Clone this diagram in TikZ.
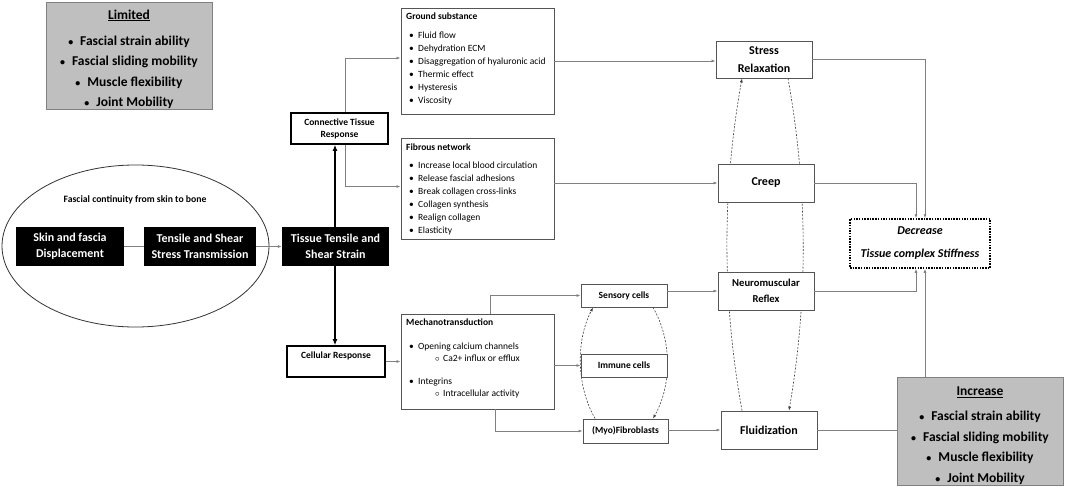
\documentclass[tikz,border=0pt]{standalone}
\usepackage{fontspec}
\setmainfont{Carlito}
\usetikzlibrary{arrows.meta,shapes.geometric}
\definecolor{lgray}{HTML}{BFBFBF}
\definecolor{cgray}{HTML}{808080}
\definecolor{bgray}{HTML}{555555}
\newcommand{\myfs}[2]{\fontsize{#1}{#2}\selectfont}
\newcommand{\myb}{\hspace{3pt}\makebox[9pt][l]{•}}
\newcommand{\mysb}{\hspace{29pt}\makebox[8pt][l]{$\circ$}}
\newcommand{\myB}{{\fontsize{10}{10}\selectfont\textbullet}\hspace{7pt}}
\pgfdeclarelayer{bg}
\pgfsetlayers{bg,main}
\begin{document}
\begin{tikzpicture}[x=1pt,y=-1pt,
  box/.style={draw=bgray,line width=0.9pt,fill=white,inner sep=0pt},
  blk/.style={fill=black,text=white,font=\bfseries\myfs{12}{16},align=center,inner sep=0pt},
  conn/.style={draw=cgray,line width=0.8pt},
  arr/.style={conn,-{Latex[length=4pt,width=3pt]}},
  bigarr/.style={draw=black,line width=1.8pt,-{Latex[length=6pt,width=5pt]}},
  dsh/.style={draw=black!75,dash pattern=on 2pt off 1.5pt,line width=0.6pt,-{Latex[length=4pt,width=3pt]}},
  graybox/.style={draw=cgray,fill=lgray,line width=0.9pt,inner sep=0pt},
  listtxt/.style={anchor=north west,align=left,inner sep=0pt,font=\myfs{9.5}{13}}
]
\useasboundingbox (0,0) rectangle (1065,487);

% Limited box
\node[graybox,minimum width=166,minimum height=107] (lim) at (129,55.5) {};
\node[font=\bfseries\myfs{13.5}{20.5},align=center,anchor=north,inner sep=0pt] (limt) at (129,9.5)
  {\underline{Limited}\\[5.5pt]\myB Fascial strain ability\\\myB Fascial sliding mobility\\\myB Muscle flexibility\\\myB Joint Mobility};

% Ellipse group
\node[draw=black!80,ellipse,line width=0.8pt,minimum width=267,minimum height=162,inner sep=0pt] (ell) at (135.5,246) {};
\node[font=\bfseries\myfs{9.7}{12},inner sep=0pt] (ellt) at (135,200) {Fascial continuity from skin to bone};
\node[blk,minimum width=108,minimum height=39] (skin) at (70,246.5) {Skin and fascia\\Displacement};
\node[blk,minimum width=112,minimum height=39] (tens) at (200,246.5) {Tensile and Shear\\Stress Transmission};
\node[blk,minimum width=107,minimum height=39] (tiss) at (335.5,246.5) {Tissue Tensile and\\Shear Strain};
\draw[conn] (skin.east) -- (tens.west);
\draw[arr] (tens.east) -- (tiss.west);

% Responses
\node[draw=black,line width=1.6pt,fill=white,minimum width=97,minimum height=31,inner sep=0pt,font=\bfseries\myfs{9.5}{12},align=center] (ctr) at (339.5,128.5) {Connective Tissue\\Response};
\node[draw=black,line width=1.6pt,fill=white,minimum width=98,minimum height=31,inner sep=0pt] (cel) at (336,361.5) {};
\node[font=\bfseries\myfs{9.5}{12},inner sep=0pt] (celt) at (336,356) {Cellular Response};
\draw[bigarr] ([xshift=-0.5pt]tiss.north) -- ([xshift=-0.5pt]tiss.north |- ctr.south);
\draw[bigarr] ([xshift=-0.5pt]tiss.south) -- ([xshift=-0.5pt]tiss.south |- cel.north);

% Ground substance
\node[box,minimum width=153,minimum height=106] (gs) at (477.5,61) {};
\node[listtxt] (gst) at (406,13) {\textbf{Ground substance}\\[6pt]\myb Fluid flow\\\myb Dehydration ECM\\\myb Disaggregation of hyaluronic acid\\\myb Thermic effect\\\myb Hysteresis\\\myb Viscosity};
% Fibrous network
\node[box,minimum width=153,minimum height=101] (fib) at (477.5,188.5) {};
\node[listtxt] (fibt) at (406,144) {\textbf{Fibrous network}\\[5pt]\myb Increase local blood circulation\\\myb Release fascial adhesions\\\myb Break collagen cross-links\\\myb Collagen synthesis\\\myb Realign collagen\\\myb Elasticity};
% Mechanotransduction
\node[box,minimum width=153,minimum height=95] (mech) at (477.5,361.5) {};
\node[listtxt,font=\myfs{9.5}{12}] (mecht) at (406,319) {\textbf{Mechanotransduction}\\[12pt]\myb Opening calcium channels\\\mysb Ca2+ influx or efflux\\[11pt]\myb Integrins\\\mysb Intracellular activity};

\draw[arr] ([xshift=5.5pt]ctr.north) |- ([yshift=3pt]gs.west);
\draw[arr] ([xshift=5.5pt]ctr.south) |- ([yshift=2pt]fib.west);
\draw[arr] (cel.east) -- (mech.west);

% Cells
\node[box,minimum width=86,minimum height=23,font=\bfseries\myfs{9.5}{12}] (sens) at (624,295.5) {Sensory cells};
\node[box,minimum width=86,minimum height=23,font=\bfseries\myfs{9.5}{12}] (imm) at (624,365.5) {Immune cells};
\node[box,minimum width=85,minimum height=24,font=\bfseries\myfs{9.5}{12}] (myo) at (625.5,431) {(Myo)Fibroblasts};
\draw[arr] ([xshift=12.5pt]mech.north) |- (sens.west);
\draw[arr] (imm.west -| mech.east) -- (imm.west);
\draw[arr] ([xshift=17.5pt]mech.south) |- (myo.west);

% Right column
\node[box,minimum width=96,minimum height=37,font=\bfseries\myfs{12}{18},align=center] (sr) at (764,59.5) {Stress\\Relaxation};
\node[box,minimum width=96,minimum height=38,font=\bfseries\myfs{12}{16}] (cr) at (766,183) {Creep};
\node[box,minimum width=96,minimum height=38,font=\bfseries\myfs{10.6}{16},align=center] (nm) at (766,291) {Neuromuscular\\Reflex};
\node[box,minimum width=96,minimum height=38,font=\bfseries\myfs{12}{16}] (fl) at (769,430) {Fluidization};

\draw[arr] (gs.east) -- (sr.west |- gs.east);
\draw[arr] (cr.west -| fib.east) -- (cr.west);
\draw[arr] (nm.west -| sens.east) -- (nm.west);
\draw[arr] (fl.west -| myo.east) -- (fl.west);

% Dashed curves (behind boxes)
\begin{pgfonlayer}{bg}
\draw[dsh] ([xshift=-27pt]fl.north) .. controls (722,300) and (722,190) .. ([xshift=-22pt]sr.south);
\draw[dsh] ([xshift=24pt]sr.south) .. controls (808,190) and (808,300) .. ([xshift=20pt]fl.north);
\draw[dsh] ([xshift=-30.5pt]myo.north) .. controls (576,385) and (576,340) .. ([xshift=-31pt]sens.south);
\draw[dsh] ([xshift=29pt]sens.south) .. controls (672,340) and (672,385) .. ([xshift=27.5pt]myo.north);
\end{pgfonlayer}

% Decrease
\node[draw=black,line width=1.5pt,dash pattern=on 1.5pt off 1.2pt,minimum width=140,minimum height=49,inner sep=0pt,font=\bfseries\itshape\myfs{12}{23},align=center] (dec) at (920,243.5) {Decrease\\Tissue complex Stiffness};

% Increase
\node[graybox,minimum width=166,minimum height=108] (inc) at (980,431) {};
\node[font=\bfseries\myfs{13.5}{20.5},align=center,anchor=north,inner sep=0pt] (inct) at (980,386.5)
  {\underline{Increase}\\[5pt]\myB Fascial strain ability\\\myB Fascial sliding mobility\\\myB Muscle flexibility\\\myB Joint Mobility};

\draw[arr] (sr.east) -| ([xshift=5pt]dec.north);
\draw[arr] (cr.east) -| ([xshift=-4pt]dec.north);
\draw[arr] (nm.east) -| ([xshift=-4pt]dec.south);
\draw[arr] ([xshift=-55pt]inc.north) -- ([xshift=5pt]dec.south);
\draw[conn] (fl.east) -- (fl.east -| inc.west);
\end{tikzpicture}
\end{document}
